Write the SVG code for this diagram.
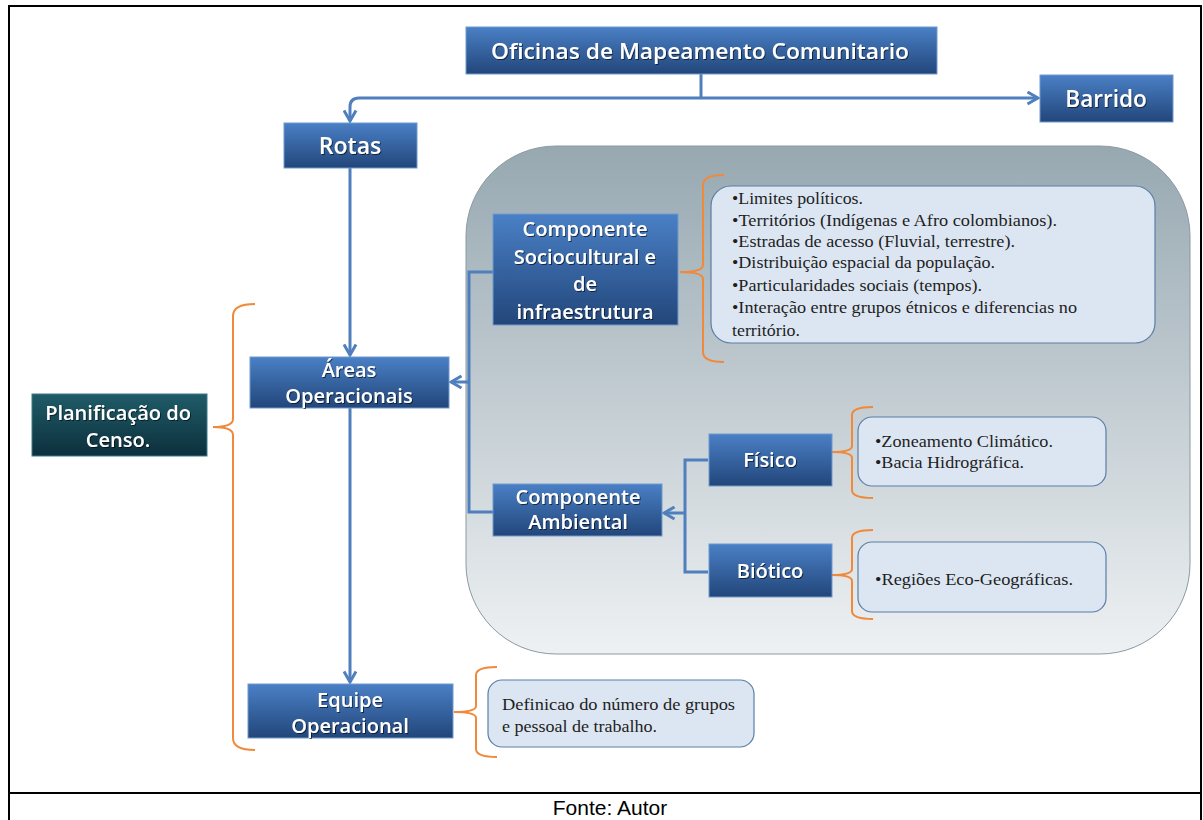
<svg xmlns="http://www.w3.org/2000/svg" width="1203" height="820" viewBox="0 0 1203 820">
<defs>
<linearGradient id="gBlue" x1="0" y1="0" x2="0" y2="1">
<stop offset="0" stop-color="#4a80c6"/><stop offset="1" stop-color="#22467a"/>
</linearGradient>
<linearGradient id="gTeal" x1="0" y1="0" x2="0" y2="1">
<stop offset="0" stop-color="#1f5c68"/><stop offset="1" stop-color="#0c2f3c"/>
</linearGradient>
<linearGradient id="gGray" x1="0" y1="0" x2="0" y2="1">
<stop offset="0" stop-color="#97a8b1"/><stop offset="1" stop-color="#eef1f3"/>
</linearGradient>
<filter id="ts" x="-10%" y="-20%" width="120%" height="140%">
<feDropShadow dx="1" dy="1" stdDeviation="0.6" flood-color="#000" flood-opacity="0.6"/>
</filter>
<marker id="chev" viewBox="0 0 10 10" refX="8.5" refY="5" markerWidth="5" markerHeight="5" orient="auto" markerUnits="strokeWidth">
<path d="M1.5,1 L8.5,5 L1.5,9" fill="none" stroke="#4f7fbd" stroke-width="2"/>
</marker>
</defs>
<style>
.box{fill:url(#gBlue);stroke:#6f9ad0;stroke-width:1}
.teal{fill:url(#gTeal);stroke:#3f7a88;stroke-width:1}
.bt{font-family:"Open Sans","Liberation Sans",sans-serif;font-weight:600;fill:#fff;text-anchor:middle;filter:url(#ts)}
.tb{fill:#dce6f2;stroke:#5b7ea6;stroke-width:1.2}
.st{font-family:"Liberation Serif",serif;fill:#1e1e1e}
.con{fill:none;stroke:#4f7fbd;stroke-width:3}
.br{fill:none;stroke:#f0893a;stroke-width:2}
.frame{fill:none;stroke:#000;stroke-width:2}
</style>

<g id="frame">
<rect class="frame" x="9" y="6" width="1192" height="830"/>
<line class="frame" x1="9" y1="793" x2="1201" y2="793"/>
<text x="610" y="815" font-family="Liberation Sans,Arial,sans-serif" font-size="21" text-anchor="middle" fill="#000">Fonte: Autor</text>
</g>

<g id="panel">
<rect x="466" y="146" width="724" height="508" rx="90" ry="90" fill="url(#gGray)" stroke="#8b9aa3" stroke-width="1"/>
</g>

<g id="braces">
<path class="br" d="M255,304 Q233,304 233,316 L233,419 Q233,427 213,427 Q233,427 233,435 L233,738 Q233,750 255,750"/>
<path class="br" d="M724,175 Q703,175 703,185 L703,265 Q703,272 680,272 Q703,272 703,279 L703,352 Q703,362 724,362"/>
<path class="br" d="M873,407 Q852,407 852,415 L852,446 Q852,452 832,452 Q852,452 852,458 L852,490 Q852,498 873,498"/>
<path class="br" d="M873,530 Q852,530 852,538 L852,569 Q852,575 832,575 Q852,575 852,581 L852,611 Q852,619 873,619"/>
<path class="br" d="M497,667 Q476,667 476,675 L476,706 Q476,712 454,712 Q476,712 476,718 L476,749 Q476,757 497,757"/>
</g>

<g id="connectors">
<path class="con" d="M701,74 L701,98"/>
<path class="con" d="M701,98 L1038,98" marker-end="url(#chev)"/>
<path class="con" d="M701,98 L359,98 Q350,98 350,107 L350,121" marker-end="url(#chev)"/>
<path class="con" d="M350,168 L350,355" marker-end="url(#chev)"/>
<path class="con" d="M350,408 L350,682" marker-end="url(#chev)"/>
<path class="con" d="M493,272 L469,272 L469,512 L493,512"/>
<path class="con" d="M469,382 L451,382" marker-end="url(#chev)"/>
<path class="con" d="M708,460 L685,460 L685,572 L708,572"/>
<path class="con" d="M685,513 L664,513" marker-end="url(#chev)"/>
</g>

<g id="n-oficinas">
<rect class="box" x="466" y="27" width="471" height="47"/>
<text class="bt" x="700" y="59" font-size="22" textLength="418" lengthAdjust="spacingAndGlyphs">Oficinas de Mapeamento Comunitario</text>
</g>
<g id="n-barrido">
<rect class="box" x="1040" y="75" width="133" height="47"/>
<text class="bt" x="1106" y="107" font-size="22.5">Barrido</text>
</g>
<g id="n-rotas">
<rect class="box" x="284" y="123" width="133" height="45"/>
<text class="bt" x="350" y="154" font-size="23">Rotas</text>
</g>
<g id="n-areas">
<rect class="box" x="250" y="357" width="199" height="51"/>
<text class="bt" x="349" y="377" font-size="20">Áreas</text>
<text class="bt" x="349" y="403" font-size="20">Operacionais</text>
</g>
<g id="n-planificacao">
<rect class="teal" x="32" y="394" width="175" height="62"/>
<text class="bt" x="118" y="420" font-size="20">Planificação do</text>
<text class="bt" x="118" y="447" font-size="20">Censo.</text>
</g>
<g id="n-equipe">
<rect class="box" x="248" y="684" width="205" height="54"/>
<text class="bt" x="350" y="707" font-size="20">Equipe</text>
<text class="bt" x="350" y="733" font-size="20">Operacional</text>
</g>
<g id="n-socio">
<rect class="box" x="493" y="214" width="185" height="111"/>
<text class="bt" x="585" y="236" font-size="20">Componente</text>
<text class="bt" x="585" y="264" font-size="20">Sociocultural e</text>
<text class="bt" x="585" y="291" font-size="20">de</text>
<text class="bt" x="585" y="319" font-size="20">infraestrutura</text>
</g>
<g id="n-ambiental">
<rect class="box" x="493" y="484" width="169" height="52"/>
<text class="bt" x="578" y="504" font-size="20">Componente</text>
<text class="bt" x="578" y="529" font-size="20">Ambiental</text>
</g>
<g id="n-fisico">
<rect class="box" x="709" y="434" width="123" height="52"/>
<text class="bt" x="770" y="467" font-size="20">Físico</text>
</g>
<g id="n-biotico">
<rect class="box" x="709" y="544" width="123" height="53"/>
<text class="bt" x="770" y="578" font-size="20">Biótico</text>
</g>

<g id="t-socio">
<rect class="tb" x="711" y="186" width="444" height="157" rx="20" ry="20"/>
<text class="st" font-size="17">
<tspan x="732" y="204" textLength="131" lengthAdjust="spacingAndGlyphs">•Limites políticos.</tspan>
<tspan x="732" y="226" textLength="325" lengthAdjust="spacingAndGlyphs">•Territórios (Indígenas e Afro colombianos).</tspan>
<tspan x="732" y="247" textLength="283" lengthAdjust="spacingAndGlyphs">•Estradas de acesso (Fluvial, terrestre).</tspan>
<tspan x="732" y="268" textLength="263" lengthAdjust="spacingAndGlyphs">•Distribuição espacial da população.</tspan>
<tspan x="732" y="291" textLength="250" lengthAdjust="spacingAndGlyphs">•Particularidades sociais (tempos).</tspan>
<tspan x="732" y="313" textLength="345" lengthAdjust="spacingAndGlyphs">•Interação entre grupos étnicos e diferencias no</tspan>
<tspan x="732" y="336" textLength="68" lengthAdjust="spacingAndGlyphs">território.</tspan>
</text>
</g>
<g id="t-fisico">
<rect class="tb" x="858" y="417" width="248" height="69" rx="14" ry="14"/>
<text class="st" font-size="17">
<tspan x="875" y="447" textLength="178" lengthAdjust="spacingAndGlyphs">•Zoneamento Climático.</tspan>
<tspan x="875" y="468" textLength="149" lengthAdjust="spacingAndGlyphs">•Bacia Hidrográfica.</tspan>
</text>
</g>
<g id="t-biotico">
<rect class="tb" x="858" y="542" width="248" height="70" rx="14" ry="14"/>
<text class="st" font-size="17">
<tspan x="875" y="585" textLength="198" lengthAdjust="spacingAndGlyphs">•Regiões Eco-Geográficas.</tspan>
</text>
</g>
<g id="t-equipe">
<rect class="tb" x="488" y="680" width="266" height="67" rx="14" ry="14"/>
<text class="st" font-size="17">
<tspan x="502" y="710" textLength="233" lengthAdjust="spacingAndGlyphs">Definicao do número de grupos</tspan>
<tspan x="502" y="732" textLength="155" lengthAdjust="spacingAndGlyphs">e pessoal de trabalho.</tspan>
</text>
</g>
</svg>
